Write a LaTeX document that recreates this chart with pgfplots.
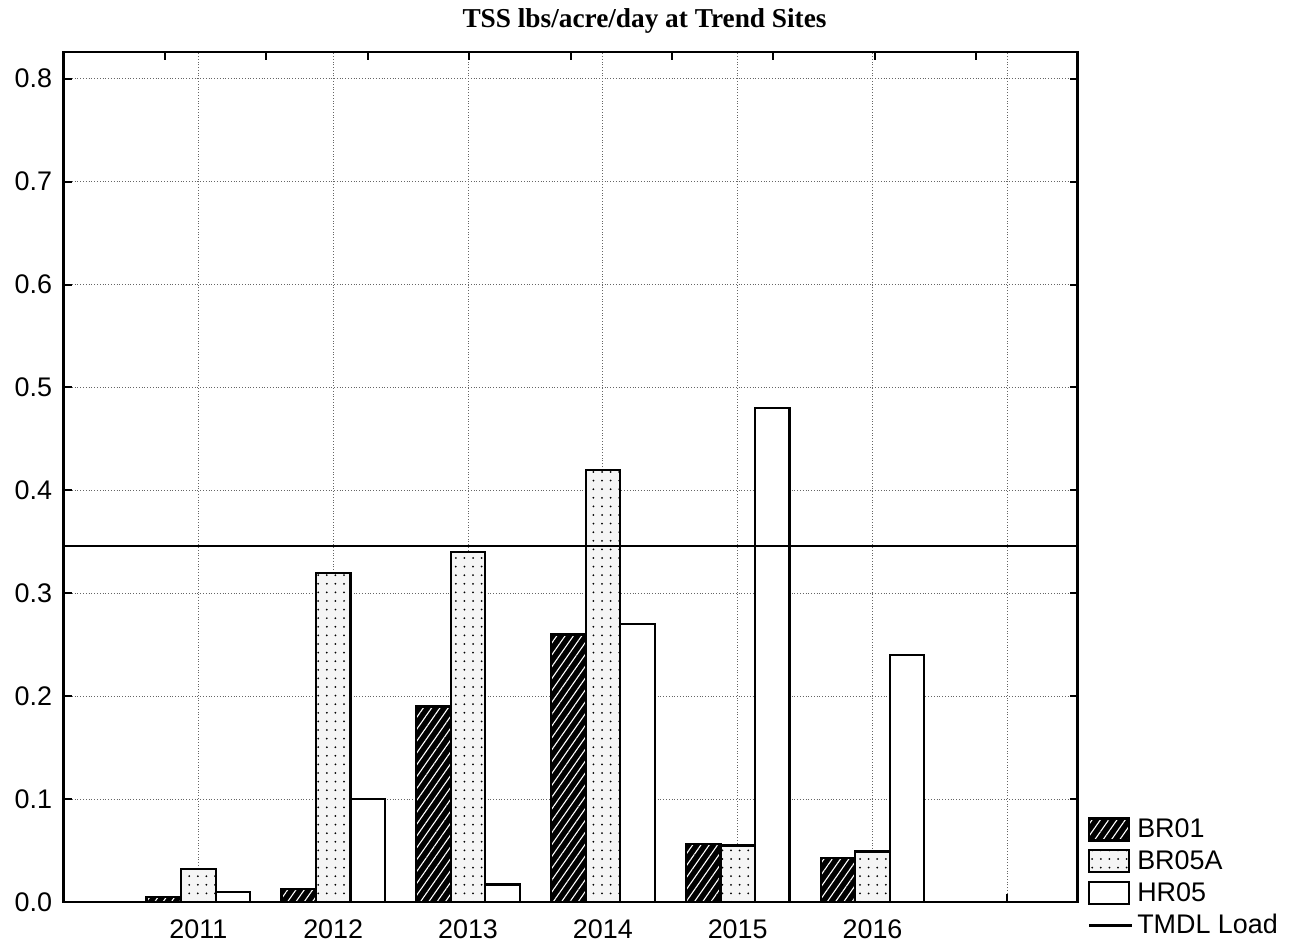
\documentclass[border=0pt]{standalone}
\usepackage{fontspec}
\setmainfont{Liberation Sans}
\newfontfamily\timesfont{Liberation Serif}
\usepackage{pgfplots}
\pgfplotsset{compat=1.18}
\usetikzlibrary{patterns.meta}
\pgfplotsset{
  barlegend/.style={legend image code/.code={\draw[##1] (0bp,-5.5bp) rectangle (20bp,5.5bp);}},
  linelegend/.style={legend image code/.code={\draw[##1] (0bp,0bp) -- (21.5bp,0bp);}},
}

\pgfplotstableread{
x BR01 BR05A HR05
0 0.005 0.032 0.010
1 0.013 0.320 0.100
2 0.190 0.340 0.017
3 0.260 0.420 0.270
4 0.056 0.055 0.480
5 0.043 0.049 0.240
}\loads

\begin{document}
\begin{tikzpicture}
\path[use as bounding box] (-31.75bp,-21.5bp) rectangle (612.75bp,451bp);
\begin{axis}[
  at={(0,0)}, anchor=south west,
  scale only axis, width=507bp, height=425bp,
  xmin=-1, xmax=6.52, ymin=0, ymax=0.826,
  xtick={0,...,6}, xticklabels={2011,2012,2013,2014,2015,2016,{}},
  ytick={0,0.1,...,0.8},
  yticklabel style={/pgf/number format/fixed,/pgf/number format/fixed zerofill,/pgf/number format/precision=1,/pgf/number format/assume math mode=true, xshift=-2.2bp},
  xtick pos=lower, ytick pos=both,
  tick align=inside, major tick length=4bp,
  tick style={black, line width=1bp},
  tick label style={font=\fontsize{13.5}{16}\selectfont},
  xticklabel style={yshift=-5.2bp},
  axis line style={line width=1.2bp},
  grid=major, major grid style={densely dotted, black!60, line width=0.5bp},
  title={\timesfont\bfseries\fontsize{13.7}{16}\selectfont TSS lbs/acre/day at Trend Sites},
  title style={at={(0.573,1)}, anchor=base, yshift=6.5bp},
  legend style={at={(1,0.108)}, anchor=north west, draw=none, fill=none, xshift=2bp,
    font=\fontsize{13.5}{16}\selectfont, row sep=1.1bp},
  legend cell align=left,
]
\addplot[ybar, bar width=0.256, bar shift=-0.256, draw=black, line width=1.1bp,
  fill=black, postaction={pattern={Lines[angle=55,distance=3.4bp,line width=0.55bp]}, pattern color=white},
  barlegend]
  table[x=x,y=BR01] {\loads};
\addlegendentry{BR01}
\addplot[ybar, bar width=0.256, bar shift=0, draw=black, line width=1.1bp,
  fill=black!4, postaction={pattern={Dots[distance=4.3bp,radius=0.5bp]}, pattern color=black},
  barlegend]
  table[x=x,y=BR05A] {\loads};
\addlegendentry{BR05A}
\addplot[ybar, bar width=0.256, bar shift=0.256, draw=black, line width=1.1bp, fill=white,
  barlegend]
  table[x=x,y=HR05] {\loads};
\addlegendentry{HR05}
\addplot[black, line width=1.2bp, mark=none, linelegend]
  coordinates {(-1,0.346) (6.52,0.346)};
\addlegendentry{TMDL Load}
\end{axis}
\begin{axis}[
  at={(0,0)}, anchor=south west,
  scale only axis, width=507bp, height=425bp,
  xmin=0, xmax=10, ymin=0, ymax=1,
  xtick={1,...,9}, xticklabels={}, ytick=\empty,
  xtick pos=upper, tick align=inside, major tick length=4bp,
  tick style={black, line width=1bp},
  hide y axis, axis line style={line width=1.2bp},
]
\end{axis}
\end{tikzpicture}
\end{document}
